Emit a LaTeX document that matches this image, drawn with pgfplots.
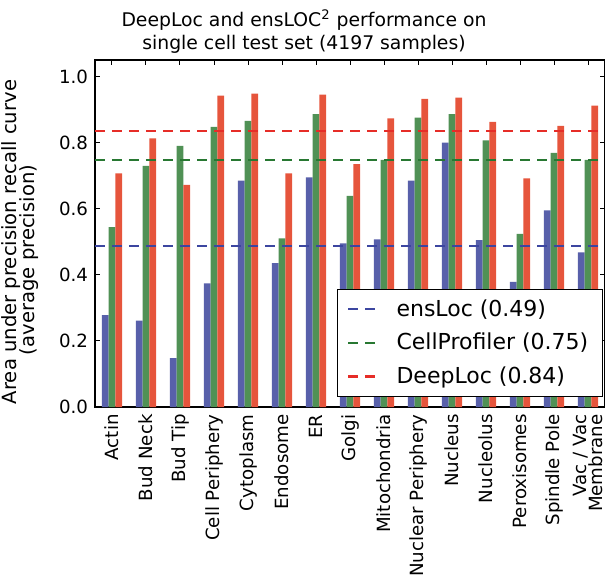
\documentclass[border=0pt]{standalone}
\usepackage{pgfplots}
\pgfplotsset{compat=1.18}
\usepackage{fontspec}
\setmainfont{DejaVu Sans}
\definecolor{barB}{RGB}{88,96,170}
\definecolor{barG}{RGB}{80,145,85}
\definecolor{barR}{RGB}{230,85,60}
\definecolor{lnB}{RGB}{60,70,160}
\definecolor{lnG}{RGB}{40,120,50}
\definecolor{lnR}{RGB}{230,45,40}
\pgfplotstableread{
x b g r
0 0.278 0.544 0.707
1 0.261 0.730 0.813
2 0.148 0.790 0.672
3 0.374 0.848 0.942
4 0.685 0.866 0.948
5 0.435 0.510 0.707
6 0.695 0.886 0.945
7 0.495 0.639 0.735
8 0.507 0.748 0.873
9 0.685 0.876 0.932
10 0.800 0.886 0.936
11 0.505 0.807 0.863
12 0.379 0.524 0.692
13 0.595 0.769 0.851
14 0.468 0.748 0.912
}\datatable
\begin{document}
\fontsize{9.8}{11}\selectfont
\begin{tikzpicture}
\begin{axis}[
  name=ax,
  scale only axis,
  width=255pt, height=173.5pt,
  xmin=-0.5, xmax=14.5,
  ymin=0, ymax=1.05,
  axis line style={line width=0.75pt},
  tick align=inside,
  major tick length=2.5pt,
  tick style={black, line width=0.5pt},
  xtick={0,...,14},
  xticklabels={Actin,Bud Neck,Bud Tip,Cell Periphery,Cytoplasm,Endosome,ER,Golgi,Mitochondria,Nuclear Periphery,Nucleus,Nucleolus,Peroxisomes,Spindle Pole,{Vac / Vac\\Membrane}},
  xticklabel style={rotate=90, anchor=east, align=right, font=\fontsize{9.1}{8.4}\selectfont, inner sep=0pt, xshift=-3.5pt},
  xtick pos=both,
  ytick={0,0.2,...,1.0},
  yticklabel style={/pgf/number format/fixed, /pgf/number format/fixed zerofill, /pgf/number format/precision=1, /pgf/number format/assume math mode=true, font=\fontsize{9.1}{11}\selectfont},
  ytick pos=both,
  legend style={at={(rel axis cs:1,0)}, anchor=south east, xshift=-1pt, yshift=5pt,
    draw=black, line width=0.75pt, inner xsep=5pt, inner ysep=3pt, row sep=3pt,
    font=\fontsize{11}{13}\selectfont,
    nodes={inner sep=2pt},
    /tikz/every odd column/.append style={column sep=6.5pt}},
  legend cell align=left,
  legend image code/.code={\draw[#1] (0pt,0pt) -- (15pt,0pt);},
]
\addplot[ybar, bar width=0.2, bar shift=-0.2, fill=barB, draw=none, forget plot] table[x=x,y=b]{\datatable};
\addplot[ybar, bar width=0.2, bar shift=0, fill=barG, draw=none, forget plot] table[x=x,y=g]{\datatable};
\addplot[ybar, bar width=0.2, bar shift=0.2, fill=barR, draw=none, forget plot] table[x=x,y=r]{\datatable};
\addplot[lnB, line width=1.1pt, dash pattern=on 5pt off 3.5pt] coordinates {(-0.5,0.488) (14.5,0.488)};
\addlegendentry{ensLoc (0.49)}
\addplot[lnG, line width=1.1pt, dash pattern=on 5pt off 3.5pt] coordinates {(-0.5,0.748) (14.5,0.748)};
\addlegendentry{CellProfiler (0.75)}
\addplot[lnR, line width=1.1pt, dash pattern=on 5pt off 3.5pt] coordinates {(-0.5,0.836) (14.5,0.836)};
\addlegendentry{DeepLoc (0.84)}
\end{axis}
\begin{scope}[font=\fontsize{9.4}{11}\selectfont]
\node[anchor=base, inner sep=0pt] at (104.5pt,190pt) {DeepLoc and ensLOC\textsuperscript{2} performance on};
\node[anchor=base, inner sep=0pt] at (104.5pt,178.5pt) {single cell test set (4197 samples)};
\end{scope}
\node[rotate=90, inner sep=0pt] at (-42pt,82.5pt) {Area under precision recall curve};
\node[rotate=90, inner sep=0pt] at (-33pt,73.5pt) {(average precision)};
\pgfresetboundingbox
\useasboundingbox (-47.5pt,-85.5pt) rectangle (255pt,203.5pt);
\end{tikzpicture}
\end{document}
